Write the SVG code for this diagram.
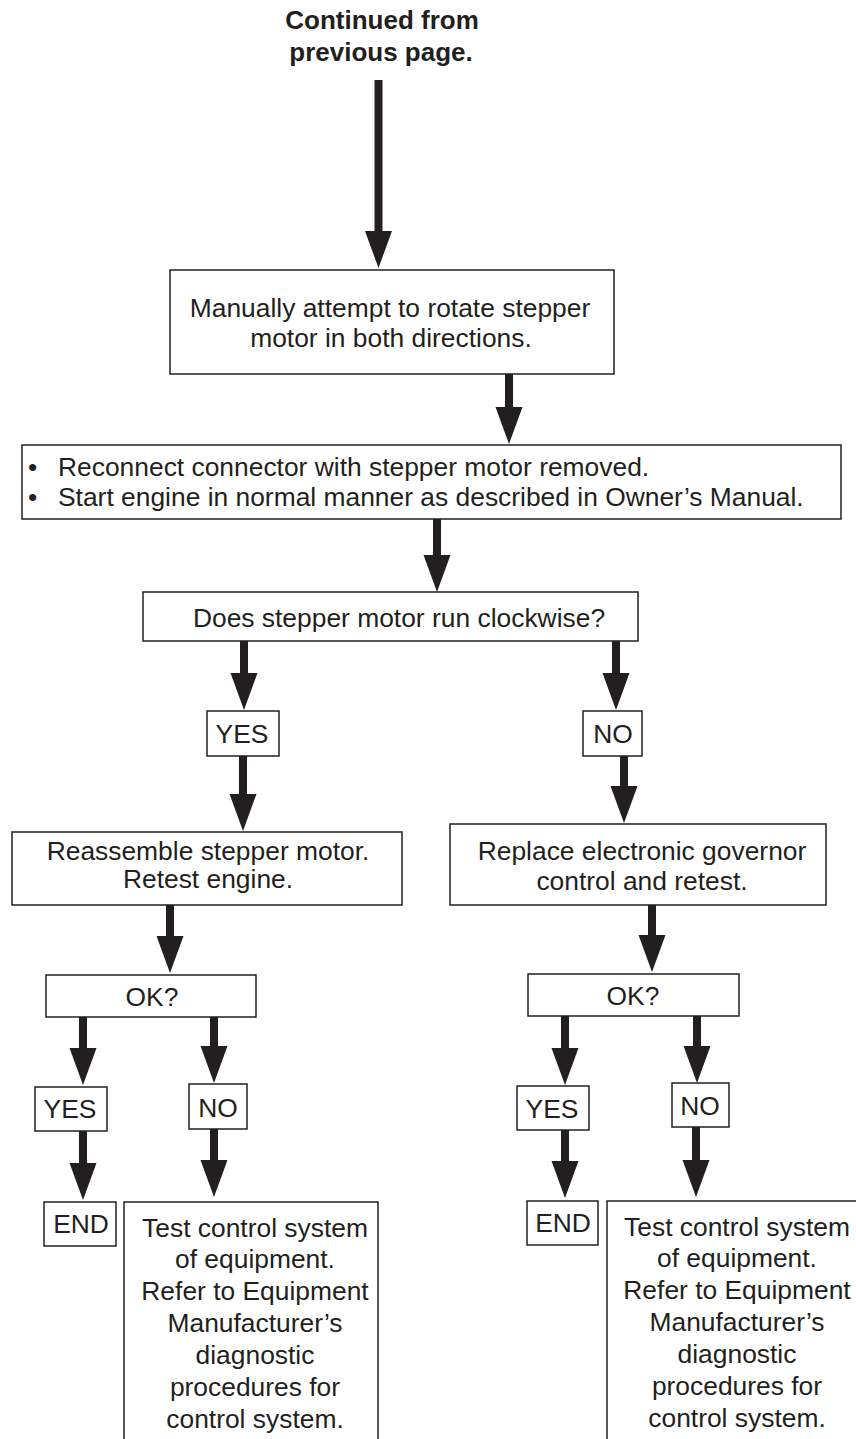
<svg xmlns="http://www.w3.org/2000/svg" width="856" height="1439" viewBox="0 0 856 1439">
<style>
  .box { fill: #ffffff; stroke: #231f20; stroke-width: 1.5; }
  .open { fill: none; stroke: #231f20; stroke-width: 1.5; }
  .t { font-family: "Liberation Sans", Arial, Helvetica, sans-serif; font-size: 26.4px; fill: #231f20; text-anchor: middle; }
  .tl { font-family: "Liberation Sans", Arial, Helvetica, sans-serif; font-size: 26.4px; fill: #231f20; }
  .title { font-family: "Liberation Sans", Arial, Helvetica, sans-serif; font-size: 26px; font-weight: bold; fill: #231f20; text-anchor: middle; }
  .arrow { stroke: #231f20; stroke-width: 8; fill: none; marker-end: url(#head); }
</style>
<defs>
  <marker id="head" markerUnits="userSpaceOnUse" viewBox="0 -14 37 28" refX="0" refY="0" markerWidth="37" markerHeight="28" orient="auto">
    <path d="M0,-13.5 L37,0 L0,13.5 Z" fill="#231f20"/>
  </marker>
</defs>

<g id="title">
  <text class="title" x="382" y="29">Continued from</text>
  <text class="title" x="381" y="61">previous page.</text>
</g>

<g id="connectors">
  <line class="arrow" x1="378.5" y1="80" x2="378.5" y2="231"/>
  <line class="arrow" x1="509" y1="374" x2="509" y2="407"/>
  <line class="arrow" x1="437" y1="519" x2="437" y2="555"/>
  <line class="arrow" x1="244" y1="641" x2="244" y2="673"/>
  <line class="arrow" x1="616" y1="641" x2="616" y2="673"/>
  <line class="arrow" x1="243" y1="756" x2="243" y2="794"/>
  <line class="arrow" x1="624" y1="756" x2="624" y2="786"/>
  <line class="arrow" x1="170" y1="905" x2="170" y2="936"/>
  <line class="arrow" x1="652" y1="905" x2="652" y2="935"/>
  <line class="arrow" x1="83" y1="1017" x2="83" y2="1048"/>
  <line class="arrow" x1="214" y1="1017" x2="214" y2="1046"/>
  <line class="arrow" x1="565" y1="1016" x2="565" y2="1048"/>
  <line class="arrow" x1="697" y1="1016" x2="697" y2="1046"/>
  <line class="arrow" x1="83" y1="1131" x2="83" y2="1163"/>
  <line class="arrow" x1="214" y1="1129" x2="214" y2="1160"/>
  <line class="arrow" x1="565" y1="1130" x2="565" y2="1161"/>
  <line class="arrow" x1="696" y1="1127" x2="696" y2="1160"/>
</g>

<g id="n-rotate">
  <rect class="box" x="170" y="270" width="444" height="104"/>
  <text class="t" x="390" y="317">Manually attempt to rotate stepper</text>
  <text class="t" x="391" y="347">motor in both directions.</text>
</g>

<g id="n-reconnect">
  <rect class="box" x="22" y="445" width="819" height="74"/>
  <text class="tl" x="28" y="476">•</text>
  <text class="tl" x="58" y="476">Reconnect connector with stepper motor removed.</text>
  <text class="tl" x="28" y="506">•</text>
  <text class="tl" x="58" y="506">Start engine in normal manner as described in Owner’s Manual.</text>
</g>

<g id="n-clockwise">
  <rect class="box" x="143" y="592" width="495" height="49"/>
  <text class="t" x="399" y="627">Does stepper motor run clockwise?</text>
</g>

<g id="n-yes1">
  <rect class="box" x="207" y="711" width="72" height="45"/>
  <text class="t" x="242" y="743">YES</text>
</g>

<g id="n-no1">
  <rect class="box" x="583" y="711" width="59" height="45"/>
  <text class="t" x="613" y="743">NO</text>
</g>

<g id="n-reassemble">
  <rect class="box" x="12" y="832" width="390" height="73"/>
  <text class="t" x="208" y="860">Reassemble stepper motor.</text>
  <text class="t" x="208" y="888">Retest engine.</text>
</g>

<g id="n-replace">
  <rect class="box" x="450" y="824" width="376" height="81"/>
  <text class="t" x="642" y="860">Replace electronic governor</text>
  <text class="t" x="642" y="890">control and retest.</text>
</g>

<g id="n-ok-left">
  <rect class="box" x="46" y="975" width="210" height="42"/>
  <text class="t" x="152" y="1006">OK?</text>
</g>

<g id="n-ok-right">
  <rect class="box" x="528" y="974" width="211" height="42"/>
  <text class="t" x="633" y="1005">OK?</text>
</g>

<g id="n-yes2-left">
  <rect class="box" x="35" y="1087" width="72" height="44"/>
  <text class="t" x="70" y="1118">YES</text>
</g>

<g id="n-no2-left">
  <rect class="box" x="189" y="1084" width="58" height="45"/>
  <text class="t" x="218" y="1117">NO</text>
</g>

<g id="n-yes2-right">
  <rect class="box" x="517" y="1086" width="72" height="44"/>
  <text class="t" x="552" y="1118">YES</text>
</g>

<g id="n-no2-right">
  <rect class="box" x="672" y="1083" width="57" height="44"/>
  <text class="t" x="700" y="1115">NO</text>
</g>

<g id="n-end-left">
  <rect class="box" x="44" y="1202" width="72" height="44"/>
  <text class="t" x="81" y="1233">END</text>
</g>

<g id="n-end-right">
  <rect class="box" x="527" y="1201" width="71" height="44"/>
  <text class="t" x="563" y="1232">END</text>
</g>

<g id="n-test-left">
  <path class="open" d="M124,1440 V1202 H378 V1440"/>
  <text class="t" x="255" y="1237">Test control system</text>
  <text class="t" x="255" y="1268">of equipment.</text>
  <text class="t" x="255" y="1300">Refer to Equipment</text>
  <text class="t" x="255" y="1332">Manufacturer’s</text>
  <text class="t" x="255" y="1364">diagnostic</text>
  <text class="t" x="255" y="1396">procedures for</text>
  <text class="t" x="255" y="1428">control system.</text>
</g>

<g id="n-test-right">
  <path class="open" d="M607,1440 V1201 H857"/>
  <text class="t" x="737" y="1236">Test control system</text>
  <text class="t" x="737" y="1267">of equipment.</text>
  <text class="t" x="737" y="1299">Refer to Equipment</text>
  <text class="t" x="737" y="1331">Manufacturer’s</text>
  <text class="t" x="737" y="1363">diagnostic</text>
  <text class="t" x="737" y="1395">procedures for</text>
  <text class="t" x="737" y="1427">control system.</text>
</g>
</svg>
